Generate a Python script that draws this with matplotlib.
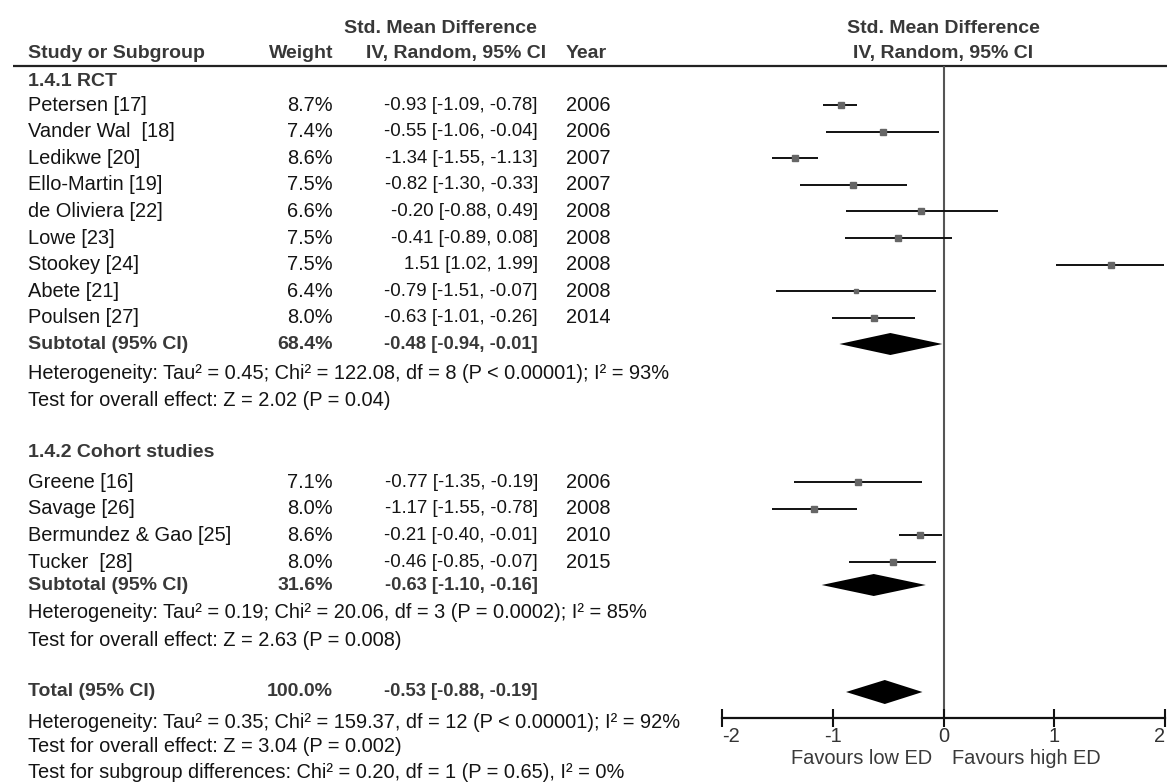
import matplotlib
matplotlib.use("Agg")
import matplotlib.pyplot as plt
import numpy as np

plt.rcParams['font.family'] = ['Liberation Sans', 'DejaVu Sans']

# ---------------- data ----------------
rct_names = ["Petersen [17]", "Vander Wal  [18]", "Ledikwe [20]", "Ello-Martin [19]",
             "de Oliviera [22]", "Lowe [23]", "Stookey [24]", "Abete [21]", "Poulsen [27]"]
rct_weight = [8.7, 7.4, 8.6, 7.5, 6.6, 7.5, 7.5, 6.4, 8.0]
rct_smd = [-0.93, -0.55, -1.34, -0.82, -0.20, -0.41, 1.51, -0.79, -0.63]
rct_lo = [-1.09, -1.06, -1.55, -1.30, -0.88, -0.89, 1.02, -1.51, -1.01]
rct_hi = [-0.78, -0.04, -1.13, -0.33, 0.49, 0.08, 1.99, -0.07, -0.26]
rct_year = [2006, 2006, 2007, 2007, 2008, 2008, 2008, 2008, 2014]
rct_sub = (68.4, -0.48, -0.94, -0.01)
rct_het = "Heterogeneity: Tau\u00b2 = 0.45; Chi\u00b2 = 122.08, df = 8 (P < 0.00001); I\u00b2 = 93%"
rct_test = "Test for overall effect: Z = 2.02 (P = 0.04)"

coh_names = ["Greene [16]", "Savage [26]", "Bermundez & Gao [25]", "Tucker  [28]"]
coh_weight = [7.1, 8.0, 8.6, 8.0]
coh_smd = [-0.77, -1.17, -0.21, -0.46]
coh_lo = [-1.35, -1.55, -0.40, -0.85]
coh_hi = [-0.19, -0.78, -0.01, -0.07]
coh_year = [2006, 2008, 2010, 2015]
coh_sub = (31.6, -0.63, -1.10, -0.16)
coh_het = "Heterogeneity: Tau\u00b2 = 0.19; Chi\u00b2 = 20.06, df = 3 (P = 0.0002); I\u00b2 = 85%"
coh_test = "Test for overall effect: Z = 2.63 (P = 0.008)"

total = (100.0, -0.53, -0.88, -0.19)
tot_het = "Heterogeneity: Tau\u00b2 = 0.35; Chi\u00b2 = 159.37, df = 12 (P < 0.00001); I\u00b2 = 92%"
tot_test = "Test for overall effect: Z = 3.04 (P = 0.002)"
sub_test = "Test for subgroup differences: Chi\u00b2 = 0.20, df = 1 (P = 0.65), I\u00b2 = 0%"

xticks = [-2, -1, 0, 1, 2]
favours_left = "Favours low ED"
favours_right = "Favours high ED"

# ---------------- layout (pixels) ----------------
W, H = 1167, 784
FS = 14.4
FSB = 14.0
FSCI = 13.4
TXT = '#141414'
BLD = '#383838'
X_NAME, X_W, X_CI, X_YEAR = 28, 333, 538, 566
rct_y = [105 + 26.6 * i for i in range(len(rct_names))]
coh_y = [482 + 26.7 * i for i in range(len(coh_names))]
RCT_HEAD, RCT_SUB, RCT_HET, RCT_TEST = 81, 344, 373, 400
COH_HEAD, COH_SUB, COH_HET, COH_TEST = 452, 585, 613, 640
TOT, TOT_HET, TOT_TEST, SUBGRP = 692, 722, 747, 772
LINE_Y, AX_Y = 66, 718
FX_L, FX_R = 722, 1165

fig = plt.figure(figsize=(W / 100, H / 100), dpi=100)
ax = fig.add_axes([0, 0, 1, 1])
ax.set_xlim(0, W)
ax.set_ylim(H, 0)
ax.axis('off')

def fmt(m, lo, hi):
    return f"{m:.2f} [{lo:.2f}, {hi:.2f}]"

def txt(x, y, s, ha='left', bold=False, color=None, size=None):
    ax.text(x, y, s, ha=ha, va='center', fontsize=size or (FSB if bold else FS),
            fontweight='bold' if bold else 'normal',
            color=color or (BLD if bold else TXT))

# headers
txt(440, 28, "Std. Mean Difference", ha='center', bold=True)
txt(X_NAME, 53, "Study or Subgroup", bold=True)
txt(X_W, 53, "Weight", ha='right', bold=True)
txt(456, 53, "IV, Random, 95% CI", ha='center', bold=True)
txt(X_YEAR, 53, "Year", bold=True)
txt(943, 28, "Std. Mean Difference", ha='center', bold=True)
txt(943, 53, "IV, Random, 95% CI", ha='center', bold=True)
ax.plot([13, W], [LINE_Y, LINE_Y], color='#222222', lw=1.6, solid_capstyle='butt')

def group(head_y, head, names, wts, smd, lo, hi, yrs, ys, sub, sub_y, het, het_y, test, test_y):
    txt(X_NAME, head_y, head, bold=True)
    for n, w, m, l, h, yr, y in zip(names, wts, smd, lo, hi, yrs, ys):
        txt(X_NAME, y, n)
        txt(X_W, y, f"{w:.1f}%", ha='right')
        txt(X_CI, y, fmt(m, l, h), ha='right', size=FSCI)
        txt(X_YEAR, y, str(yr))
    txt(X_NAME, sub_y, "Subtotal (95% CI)", bold=True)
    txt(X_W, sub_y, f"{sub[0]:.1f}%", ha='right', bold=True)
    txt(X_CI, sub_y, fmt(*sub[1:]), ha='right', bold=True, size=13.2)
    txt(X_NAME, het_y, het)
    txt(X_NAME, test_y, test)

group(RCT_HEAD, "1.4.1 RCT", rct_names, rct_weight, rct_smd, rct_lo, rct_hi, rct_year, rct_y,
      rct_sub, RCT_SUB, rct_het, RCT_HET, rct_test, RCT_TEST)
group(COH_HEAD, "1.4.2 Cohort studies", coh_names, coh_weight, coh_smd, coh_lo, coh_hi, coh_year, coh_y,
      coh_sub, COH_SUB, coh_het, COH_HET, coh_test, COH_TEST)
txt(X_NAME, TOT, "Total (95% CI)", bold=True)
txt(X_W, TOT, f"{total[0]:.1f}%", ha='right', bold=True)
txt(X_CI, TOT, fmt(*total[1:]), ha='right', bold=True, size=13.2)
txt(X_NAME, TOT_HET, tot_het)
txt(X_NAME, TOT_TEST, tot_test)
txt(X_NAME, SUBGRP, sub_test)

# ---------------- forest panel ----------------
fx = fig.add_axes([FX_L / W, (H - AX_Y) / H, (FX_R - FX_L) / W, (AX_Y - LINE_Y) / H])
fx.set_xlim(-2, 2)
fx.set_ylim(AX_Y, LINE_Y)
fx.patch.set_alpha(0)
for s in ['top', 'right', 'left']:
    fx.spines[s].set_visible(False)
fx.spines['bottom'].set_linewidth(1.6)
fx.spines['bottom'].set_color('#111111')
fx.set_yticks([])
fx.set_xticks(xticks)
labels = fx.set_xticklabels([str(t) for t in xticks], fontsize=FS, color='#333333')
labels[0].set_ha('left')
labels[-1].set_ha('right')
fx.tick_params(axis='x', direction='inout', length=13, width=1.5, color='#111111', pad=0)
fx.axvline(0, color='#555555', lw=1.5, zorder=1)

def studies(smd, lo, hi, wts, ys):
    for m, l, h, w, y in zip(smd, lo, hi, wts, ys):
        fx.plot([l, h], [y, y], color='#111111', lw=1.4, solid_capstyle='butt', clip_on=False, zorder=3)
        fx.plot([m], [y], marker='s', ms=4.0 * np.sqrt(w / 8.0), color='#666666',
                mec='#666666', clip_on=False, zorder=4)

def diamond(est, y, half=11):
    m, l, h = est
    fx.fill([l, m, h, m], [y, y - half, y, y + half], color='black', zorder=4, clip_on=False, lw=0)

studies(rct_smd, rct_lo, rct_hi, rct_weight, rct_y)
studies(coh_smd, coh_lo, coh_hi, coh_weight, coh_y)
diamond(rct_sub[1:], RCT_SUB)
diamond(coh_sub[1:], COH_SUB)
diamond(total[1:], TOT, half=12)

txt(932, 759, favours_left, ha='right', color='#3a3a3a')
txt(952, 759, favours_right, ha='left', color='#3a3a3a')

fig.savefig("out.png", dpi=100)
